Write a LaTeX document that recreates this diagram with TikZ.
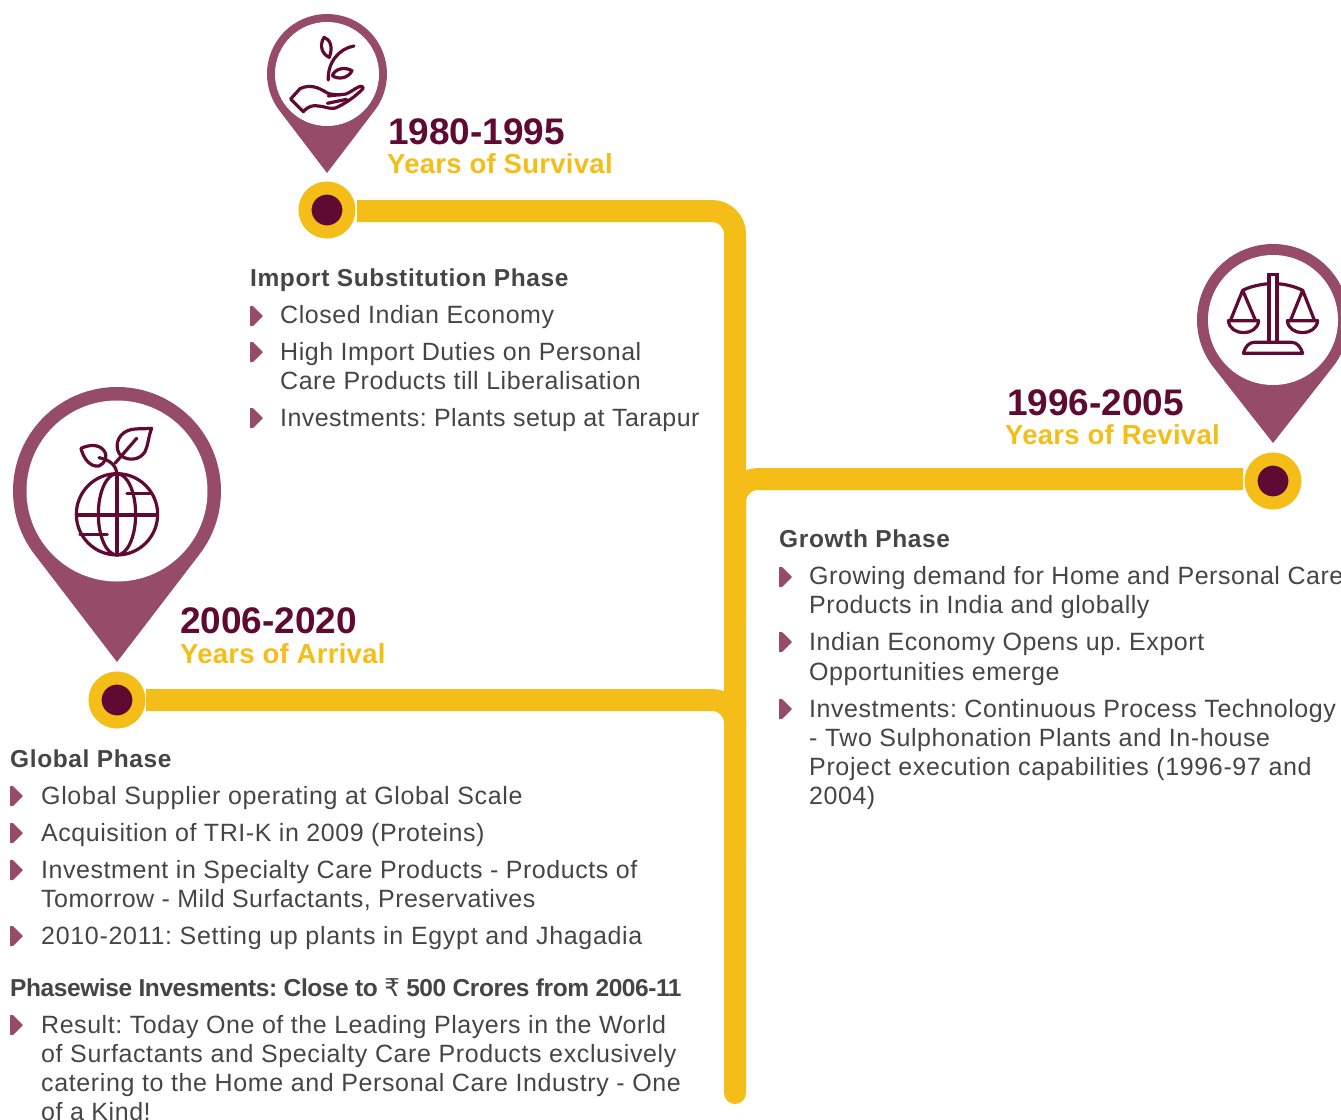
\documentclass[tikz,border=0pt]{standalone}
\usepackage{fontspec}
\setmainfont{Liberation Sans}
\newfontfamily\bodyf[LetterSpace=2.2]{Liberation Sans}
\newfontfamily\headf[LetterSpace=2.5]{Liberation Sans}
\newfontfamily\tightf[LetterSpace=-1.7]{Liberation Sans}
\newfontfamily\subf[LetterSpace=1.0]{Liberation Sans}
\newfontfamily\rupf{DejaVu Sans}
\newcommand{\ls}[1]{\addfontfeature{LetterSpace=#1}}
\frenchspacing
\definecolor{pinc}{HTML}{964C69}
\definecolor{maroon}{HTML}{5E0A33}
\definecolor{gold}{HTML}{F4BD18}
\definecolor{ink}{HTML}{454545}
\tikzset{
 track/.style={draw=gold,line width=22pt,rounded corners=23pt},
 dot/.style={circle,fill=maroon,draw=gold,line width=13pt,minimum size=44pt,inner sep=0pt,outer sep=0pt},
 icon/.style={draw=maroon,line width=3.2pt,line join=round,line cap=round,fill=none},
 body/.style={anchor=base west,inner sep=0pt,text=ink,font=\fontsize{25}{29}\bodyf},
 bhead/.style={anchor=base west,inner sep=0pt,text=ink,font=\fontsize{24.5}{29}\headf\bfseries},
 thead/.style={anchor=base west,inner sep=0pt,text=ink,font=\fontsize{24.5}{29}\tightf\bfseries},
 year/.style={anchor=base west,inner sep=0pt,text=maroon,font=\fontsize{37}{40}\selectfont\bfseries},
 sub/.style={anchor=base west,inner sep=0pt,text=gold,font=\fontsize{27.5}{30}\subf\bfseries},
}
\newcommand{\pinmark}[5]{% x y R r tipdy
 \fill[pinc] (#1,#2)++(38:#3) arc[start angle=38,end angle=-218,radius=#3] -- (#1,#2+#5) -- cycle;
 \fill[white] (#1,#2) circle[radius=#4];
}
\newcommand{\bul}[2]{\fill[pinc,rounded corners=0.6pt] (#1,#2-10) -- (#1+3,#2-10) -- (#1+13,#2) -- (#1+3,#2+10) -- (#1,#2+10) -- cycle;}
\begin{document}
\begin{tikzpicture}[x=1pt,y=-1pt]
\useasboundingbox (0,0) rectangle (1341,1119);
\clip (0,0) rectangle (1341,1119);
% markers and connectors
\coordinate (k1) at (735,211);
\coordinate (e1) at (735,1093);
\coordinate (k2) at (735,479);
\coordinate (e2) at (735,620);
\coordinate (k3) at (735,700);
\coordinate (e3) at (735,850);
\coordinate (t1) at (357,211);
\coordinate (t2) at (1243,479);
\coordinate (t3) at (146,700);
\coordinate (e0) at (735,1060);
\draw[track] (t1) -- (k1) -- (e1);
\draw[gold,line width=22pt,line cap=round] (e0) -- (e1);
\draw[track] (t2) -- (k2) -- (e2);
\draw[track] (t3) -- (k3) -- (e3);
\node[dot] (m1) at (327,210) {};
\node[dot] (m2) at (1273,481) {};
\node[dot] (m3) at (117,700) {};
% pins
\pinmark{327}{74}{60}{52}{99}
\pinmark{1273}{320}{76}{65}{123}
\pinmark{117}{491}{104}{90.5}{171}
% icon: hand and sprout
\begin{scope}[shift={(250,0)},x=0.3333pt,y=-0.3333pt]
\draw[icon] (222,112) .. controls (240,118) and (250,140) .. (238,172) .. controls (220,165) and (205,140) .. cycle;
\draw[icon] (312,138) .. controls (270,145) and (232,185) .. (235,240);
\draw[icon] (247,227) .. controls (255,205) and (285,200) .. (306,212) .. controls (295,235) and (265,240) .. cycle;
\draw[icon] (235,288) .. controls (255,285) and (270,285) .. (288,282) .. controls (300,278) and (315,265) .. (330,259) .. controls (340,258) and (342,265) .. (335,270) .. controls (320,285) and (295,305) .. (265,320) .. controls (245,332) and (230,320) .. (205,318) .. controls (190,315) and (175,318) .. (160,335) -- (122,297) -- (150,266) .. controls (180,252) and (205,262) .. (230,278) .. controls (240,285) and (260,283) .. (270,285);
\draw[icon] (232,310) -- (290,298);
\end{scope}
% icon: scales
\begin{scope}[shift={(1180,235)},x=0.3333pt,y=-0.3333pt]
\draw[icon,line cap=butt,line join=miter] (267,320) -- (267,118) -- (291,118) -- (291,320);
\draw[icon] (190,355) -- (368,355) .. controls (362,335) and (350,322) .. (335,322) -- (222,322) .. controls (208,322) and (195,335) .. cycle;
\draw[icon] (188,166) .. controls (210,155) and (240,148) .. (267,146);
\draw[icon] (291,146) .. controls (320,148) and (345,155) .. (368,166);
\draw[icon] (152,255) -- (188,166) -- (226,255);
\draw[icon] (332,255) -- (368,166) -- (403,255);
\draw[icon] (145,257) -- (236,257) .. controls (232,305) and (150,305) .. cycle;
\draw[icon] (322,257) -- (413,257) .. controls (409,305) and (326,305) .. cycle;
\end{scope}
% icon: globe and sprout
\begin{scope}[shift={(0,380)},x=0.3333pt,y=-0.3333pt]
\draw[icon] (351,403) circle[radius=122];
\draw[icon] (351,403) ellipse[x radius=56,y radius=122];
\draw[icon] (351,282) -- (351,522);
\draw[icon] (232,405) -- (470,405);
\draw[icon] (381,340) -- (450,340);
\draw[icon] (240,463) -- (322,463);
\draw[icon] (351,282) .. controls (348,255) and (330,240) .. (297,233);
\draw[icon] (345,250) -- (410,175);
\draw[icon] (243,205) .. controls (265,195) and (295,190) .. (312,212) .. controls (325,230) and (315,250) .. (297,258) .. controls (270,262) and (250,235) .. cycle;
\draw[icon] (455,145) .. controls (425,148) and (395,142) .. (372,158) .. controls (345,178) and (348,212) .. (362,226) .. controls (385,245) and (420,240) .. (435,215) .. controls (445,195) and (445,170) .. cycle;
\end{scope}
% headings
\node[year] (y1) at (388,144) {1980-1995};
\node[sub] (s1) at (387,173) {Years of Survival};
\node[year] (y2) at (1007,415) {1996-2005};
\node[sub] (s2) at (1005,444) {Years of Revival};
\node[year] (y3) at (180,633.5) {2006-2020};
\node[sub] (s3) at (180,663) {Years of Arrival};
% column 1
\node[bhead] (a0) at (250,286) {Import Substitution Phase};
\bul{250}{316}\bul{250}{352}\bul{250}{418}
\node[body] (a1) at (280,323) {Closed Indian Economy};
\node[body] (a2) at (280,360) {High Import Duties on Personal};
\node[body] (a3) at (280,389) {Care Products till Liberalisation};
\node[body] (a4) at (280,426) {\ls{1.74}Investments: Plants setup at Tarapur};
% column 2
\node[bhead] (b0) at (779,547) {Growth Phase};
\bul{779}{577}\bul{779}{642}\bul{779}{709}
\node[body] (b1) at (809,584) {Growing demand for Home and Personal Care};
\node[body] (b2) at (809,613) {Products in India and globally};
\node[body] (b3) at (809,650) {Indian Economy Opens up. Export};
\node[body] (b4) at (809,680) {Opportunities emerge};
\node[body] (b5) at (809,717) {Investments: Continuous Process Technology};
\node[body] (b6) at (809,746) {- Two Sulphonation Plants and In-house};
\node[body] (b7) at (809,775) {\ls{2.56}Project execution capabilities (1996-97 and};
\node[body] (b8) at (809,804) {2004)};
% column 3
\node[bhead] (c0) at (10,767) {Global Phase};
\bul{10}{796}\bul{10}{833}\bul{10}{870}\bul{10}{936}\bul{10}{1025}
\node[body] (c1) at (41,804) {\ls{2.6}Global Supplier operating at Global Scale};
\node[body] (c2) at (41,841) {Acquisition of TRI-K in 2009 (Proteins)};
\node[body] (c3) at (41,878) {Investment in Specialty Care Products - Products of};
\node[body] (c4) at (41,907) {\ls{1.9}Tomorrow - Mild Surfactants, Preservatives};
\node[body] (c5) at (41,944) {\ls{2.77}2010-2011: Setting up plants in Egypt and Jhagadia};
\node[thead] (c6) at (10,996) {Phasewise Invesments: Close to {\rupf\mdseries ₹} 500 Crores from 2006-11};
\node[body] (c7) at (41,1033) {Result: Today One of the Leading Players in the World};
\node[body] (c8) at (41,1062) {\ls{2.5}of Surfactants and Specialty Care Products exclusively};
\node[body] (c9) at (41,1091) {\ls{2.5}catering to the Home and Personal Care Industry - One};
\node[body] (c10) at (41,1120) {of a Kind!};
\end{tikzpicture}
\end{document}
